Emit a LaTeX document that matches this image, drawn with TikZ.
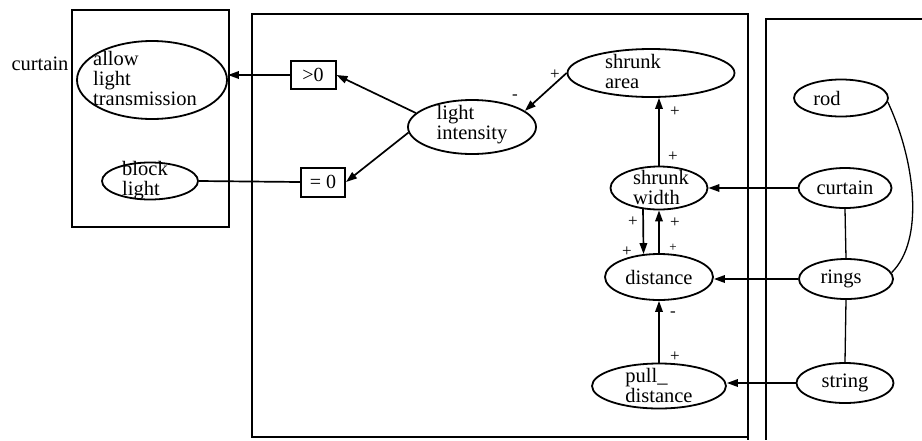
\documentclass[tikz,border=0pt]{standalone}
\usepackage{fontspec}
\setmainfont{Liberation Serif}
\usetikzlibrary{shapes.geometric,arrows.meta}
\begin{document}
\begin{tikzpicture}[x=1pt,y=-1pt,
  frame/.style={line width=1.8pt},
  oval/.style={draw, ellipse, line width=1.8pt, inner sep=0pt},
  gate/.style={draw, rectangle, line width=2pt, inner sep=0pt,
               font=\fontsize{20}{20}\selectfont},
  txt/.style={align=left, inner sep=0pt, font=\fontsize{20.5}{20}\selectfont},
  sign/.style={inner sep=0pt, font=\fontsize{17}{17}\selectfont},
  link/.style={line width=1.7pt},
  thinlink/.style={line width=1.3pt},
  arr/.style={link, -{Triangle[length=11pt,width=7.5pt]}},
]
\fill[white] (0,0) rectangle (922,440);
\useasboundingbox (0,0) rectangle (922,440);

% frames of the three views
\draw[frame] (72,10) rectangle (229,227);
\draw[frame] (252,14) rectangle (748,437);
\draw[frame] (748,437) -- (748,440);
\draw[frame] (922,19) -- (766,19) -- (766,440);

% left view: curtain states
\node[txt] (curtain-lbl) at (40,64) {curtain};
\node[oval, minimum width=150pt, minimum height=78pt] (allow) at (152,80) {};
\node[txt] (allow-t) at ([xshift=-7pt,yshift=2pt]allow.center) {allow\\light\\transmission};
\node[oval, minimum width=96pt, minimum height=37pt] (bl) at (150,181) {};
\node[txt] (bl-t) at ([xshift=-5pt]bl.center) {block\\light};

% middle view: quantities
\node[gate, minimum width=45pt, minimum height=28pt] (gt0) at (313,75) {>0};
\node[gate, minimum width=44pt, minimum height=29pt] (eq0) at (323,182) {= 0};
\node[oval, minimum width=128pt, minimum height=54pt] (lint) at (472,127) {};
\node[txt] (lint-t) at ([yshift=2pt]lint.center) {light\\intensity};
\node[oval, minimum width=167pt, minimum height=48pt] (sarea) at (651,73) {};
\node[txt] (sarea-t) at ([xshift=-18pt,yshift=2pt]sarea.center) {shrunk\\area};
\node[oval, minimum width=97pt, minimum height=43pt] (swidth) at (659,188) {};
\node[txt] (swidth-t) at ([xshift=2pt,yshift=1pt]swidth.center) {shrunk\\width};
\node[oval, minimum width=108pt, minimum height=46pt] (dist) at (659,277) {};
\node[txt] (dist-t) at (dist.center) {distance};
\node[oval, minimum width=134pt, minimum height=45pt] (pull) at (659,386) {};
\node[txt] (pull-t) at ([yshift=1pt]pull.center) {pull\_\\distance};

% right view: parts
\node[oval, minimum width=94pt, minimum height=37pt] (rod) at (841,98) {};
\node[txt] (rod-t) at ([xshift=-14pt]rod.center) {rod};
\node[oval, minimum width=93pt, minimum height=40pt] (cur) at (845,188) {};
\node[txt] (cur-t) at (cur.center) {curtain};
\node[oval, minimum width=94pt, minimum height=40pt] (rings) at (846,279) {};
\node[txt] (rings-t) at ([xshift=-5pt]rings.center) {rings};
\node[oval, minimum width=97pt, minimum height=40pt] (string) at (845,383) {};
\node[txt] (string-t) at (string.center) {string};

% influences
\draw[arr] (sarea.180) -- (lint.17);
\draw[arr] (lint.166) -- (gt0.east);
\draw[arr] (lint.185) -- (eq0.east);
\draw[arr] (gt0.west) -- (gt0.west -| allow.east);
\draw[link] (bl.east) -- (eq0.west);
\draw[arr] (swidth.north) -- (swidth.north |- sarea.south);
\draw[arr] (cur.west) -- (swidth.east);
\draw[arr] (swidth.233) -- (dist.124);
\draw[arr] (dist.north) -- (swidth.south);
\draw[arr] (pull.north) -- (dist.south);
\draw[arr] (rings.west) -- (rings.west -| dist.east);
\draw[arr] (string.west) -- (string.west -| pull.east);

% structural links between parts
\draw[thinlink] (cur.south) -- (rings.north);
\draw[thinlink] (rings.south) -- (string.north);
\draw[thinlink] (rod.-5) .. controls (915,160) and (925,240) .. (rings.8);

% signs
\node[sign] (s1) at (555,75) {+};
\node[sign] (s2) at (515,97) {-};
\node[sign] (s3) at (675,112) {+};
\node[sign] (s4) at (673,157) {+};
\node[sign] (s5) at (633,222) {+};
\node[sign] (s6) at (675,223) {+};
\node[sign] (s7) at (627,252) {+};
\node[sign, font=\fontsize{13}{13}\selectfont] (s8) at (673,248) {+};
\node[sign] (s9) at (673,314) {-};
\node[sign] (s10) at (675,357) {+};
\end{tikzpicture}
\end{document}
